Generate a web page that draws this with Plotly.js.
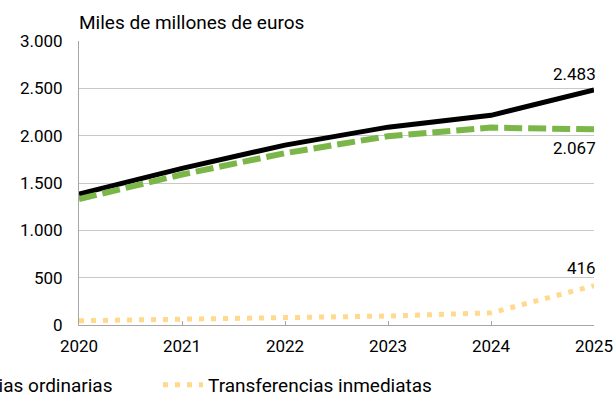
<!DOCTYPE html>
<html>
<head>
<meta charset="utf-8">
<script src="https://cdn.plot.ly/plotly-3.0.1.min.js"></script>
<style>html,body{margin:0;padding:0;background:#fff;}#chart{width:615px;height:401px;}</style>
</head>
<body>
<div id="chart"></div>
<script>
const years = [2020, 2021, 2022, 2023, 2024, 2025];
const total = [1384, 1655, 1900, 2090, 2215, 2483];
const ordinarias = [1330, 1590, 1815, 1995, 2085, 2067];
const inmediatas = [45, 67, 78, 95, 128, 416];
const seriesNames = ['Total', 'Transferencias ordinarias', 'Transferencias inmediatas'];
const unitTitle = 'Miles de millones de euros';

function fmt(v) { return String(v).replace(/\B(?=(\d{3})+(?!\d))/g, '.'); }

const font = 'Roboto, "Liberation Sans", Arial, sans-serif';
const last = years.length - 1;

const traces = [
  {x: years, y: total, name: seriesNames[0], mode: 'lines', showlegend: false,
   line: {color: '#000000', width: 5}},
  {x: years, y: ordinarias, name: seriesNames[1], mode: 'lines', legend: 'legend',
   line: {color: '#7ab648', width: 6, dash: '18px,6px'}},
  {x: years, y: inmediatas, name: seriesNames[2], mode: 'lines', legend: 'legend2',
   line: {color: '#ffd98c', width: 5, dash: '5px,7px'}}
];

const legendCommon = {orientation: 'h', yref: 'container', y: 1 - 385/401, yanchor: 'middle',
  xref: 'container', font: {family: font, size: 19, color: '#000'}, bgcolor: 'rgba(0,0,0,0)',
  itemwidth: 40};

const layout = {
  width: 615, height: 401,
  margin: {l: 79, r: 21, t: 41, b: 76, autoexpand: false},
  paper_bgcolor: '#fff', plot_bgcolor: '#fff',
  separators: ',.',
  font: {family: font, size: 17, color: '#000'},
  title: {text: unitTitle, x: 0, xref: 'paper', xanchor: 'left', y: 1 - 22/401, yref: 'container', yanchor: 'middle',
          font: {family: font, size: 19, color: '#000'}},
  xaxis: {range: [years[0], years[last]], tickvals: years, ticktext: years.map(String),
          showgrid: false, zeroline: false, showline: true, linecolor: '#a6a6a6', linewidth: 1,
          ticks: 'inside', ticklen: 4, tickcolor: '#a6a6a6', ticklabelstandoff: 6,
          tickfont: {family: font, size: 17, color: '#000'}},
  yaxis: {range: [0, 3000], dtick: 500, tick0: 0, tickformat: ',d',
          showgrid: true, gridcolor: '#c8c8c8', gridwidth: 1, zeroline: false,
          showline: true, linecolor: '#a6a6a6', linewidth: 1, ticks: '',
          ticklabelstandoff: 12, tickfont: {family: font, size: 17, color: '#000'}},
  legend: Object.assign({}, legendCommon, {x: 118/615, xanchor: 'right'}),
  legend2: Object.assign({}, legendCommon, {x: 158/615, xanchor: 'left'}),
  annotations: [
    {x: years[last], y: total[last], xref: 'x', yref: 'y', text: fmt(total[last]), showarrow: false,
     xanchor: 'right', yanchor: 'bottom', xshift: 4, yshift: 4, font: {family: font, size: 17, color: '#000'}},
    {x: years[last], y: ordinarias[last], xref: 'x', yref: 'y', text: fmt(ordinarias[last]), showarrow: false,
     xanchor: 'right', yanchor: 'top', xshift: 4, yshift: -7, font: {family: font, size: 17, color: '#000'}},
    {x: years[last], y: inmediatas[last], xref: 'x', yref: 'y', text: fmt(inmediatas[last]), showarrow: false,
     xanchor: 'right', yanchor: 'bottom', xshift: 4, yshift: 6, font: {family: font, size: 17, color: '#000'}}
  ]
};

Plotly.newPlot('chart', traces, layout, {displayModeBar: false, staticPlot: true});
</script>
</body>
</html>
